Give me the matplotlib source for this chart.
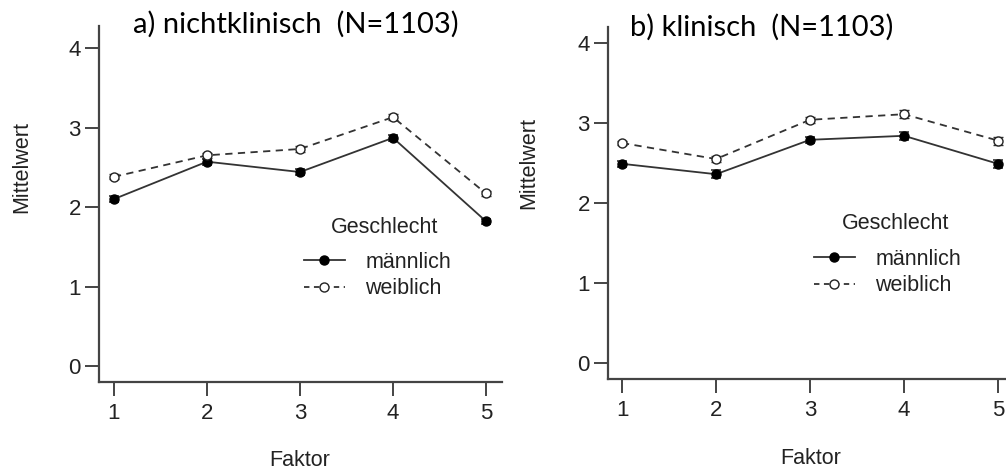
import matplotlib
matplotlib.use("Agg")
import matplotlib.pyplot as plt
from matplotlib.lines import Line2D

faktor = [1, 2, 3, 4, 5]
x_ticks = [1, 2, 3, 4, 5]
y_ticks = [0, 1, 2, 3, 4]

# a) nichtklinisch
a_maennlich = [2.10, 2.57, 2.44, 2.87, 1.82]
a_weiblich = [2.38, 2.65, 2.73, 3.13, 2.17]
a_err_m = [0.04, 0.04, 0.04, 0.04, 0.03]
a_err_w = [0.03, 0.03, 0.04, 0.04, 0.03]

# b) klinisch
b_maennlich = [2.49, 2.36, 2.79, 2.84, 2.49]
b_weiblich = [2.75, 2.55, 3.04, 3.11, 2.78]
b_err_m = [0.04, 0.05, 0.04, 0.05, 0.05]
b_err_w = [0.03, 0.04, 0.04, 0.05, 0.05]

titles = ["a) nichtklinisch  (N=1103)", "b) klinisch  (N=1103)"]
legend_title = "Geschlecht"
labels = ["männlich", "weiblich"]

W, H = 1006, 473
fig = plt.figure(figsize=(W / 100, H / 100), dpi=100)

TXT = "#222222"
SP = "#444444"
LN = "#333333"
FS = 15.5
FT = 16
plt.rcParams["font.family"] = ["Liberation Sans", "DejaVu Sans"]


def px_axes(x0, y0, x1, y1):
    return fig.add_axes([x0 / W, 1 - y1 / H, (x1 - x0) / W, (y1 - y0) / H])


def draw(ax, m, w, em, ew, xlim, ylim):
    ax.errorbar(faktor, m, yerr=em, color=LN, lw=1.3, marker="o", ms=6.5,
                mfc="black", mec="black", capsize=3.5, elinewidth=1.2,
                capthick=1.2, zorder=3, clip_on=False)
    ax.errorbar(faktor, w, yerr=ew, color=LN, lw=1.3, ls=(0, (4, 3)),
                marker="o", ms=6.5, mfc="white", mec="#222222", mew=1.0,
                capsize=3.5, elinewidth=1.2, capthick=1.2, zorder=3,
                clip_on=False)
    ax.set_xlim(*xlim)
    ax.set_ylim(*ylim)
    ax.set_xticks(x_ticks)
    ax.set_yticks(y_ticks)
    ax.spines["top"].set_visible(False)
    ax.spines["right"].set_visible(False)
    for s in ("left", "bottom"):
        ax.spines[s].set_color(SP)
        ax.spines[s].set_linewidth(1.6)
    ax.tick_params(axis="both", colors=SP, width=1.4, length=10,
                   labelsize=FT, labelcolor=TXT)
    ax.tick_params(axis="x", pad=5)
    ax.tick_params(axis="y", pad=3)
    ax.set_facecolor("none")


# left panel: axes box 99..502 x 26..382 px
ax1 = px_axes(99, 26, 502, 382)
draw(ax1, a_maennlich, a_weiblich, a_err_m, a_err_w,
     (1 - 15 / 93, 1 - 15 / 93 + 403 / 93), (-16 / 79.5, -16 / 79.5 + 356 / 79.5))
# right panel: axes box 608..1006 x 27..379 px
ax2 = px_axes(608, 27, 1006, 379)
draw(ax2, b_maennlich, b_weiblich, b_err_m, b_err_w,
     (1 - 14 / 94, 1 - 14 / 94 + 398 / 94), (-16 / 80, -16 / 80 + 352 / 80))

fig.text(300 / W, 1 - 460 / H, "Faktor", ha="center", va="center",
         fontsize=FS, color=TXT)
fig.text(811 / W, 1 - 458 / H, "Faktor", ha="center", va="center",
         fontsize=FS, color=TXT)
fig.text(22 / W, 1 - 167 / H, "Mittelwert", ha="center", va="center",
         rotation=90, fontsize=FS, color=TXT)
fig.text(529 / W, 1 - 163 / H, "Mittelwert", ha="center", va="center",
         rotation=90, fontsize=FS, color=TXT)

# titles
fig.text(296 / W, 1 - 24 / H, titles[0], ha="center", va="center",
         fontsize=21, color="black", family=["Lato", "DejaVu Sans"])
fig.text(762 / W, 1 - 27 / H, titles[1], ha="center", va="center",
         fontsize=21, color="black", family=["Lato", "DejaVu Sans"])

handles = [
    Line2D([], [], color=LN, lw=1.3, marker="o", ms=6.5, mfc="black", mec="black"),
    Line2D([], [], color=LN, lw=1.3, ls=(0, (3, 2.5)), marker="o", ms=6.5,
           mfc="white", mec="#222222"),
]
for (tx, ty, lx, ly) in ((385, 227, 304, 252), (896, 223, 814, 249)):
    fig.text(tx / W, 1 - ty / H, legend_title, ha="center", va="center",
             fontsize=FS, color=TXT)
    leg = fig.legend(handles, labels, loc="upper left",
                     bbox_to_anchor=(lx / W, 1 - ly / H), frameon=False,
                     fontsize=FS, handlelength=1.9, handletextpad=0.95,
                     labelspacing=0.25, borderaxespad=0, borderpad=0)
    for t in leg.get_texts():
        t.set_color(TXT)

fig.savefig("out.png", dpi=100)
